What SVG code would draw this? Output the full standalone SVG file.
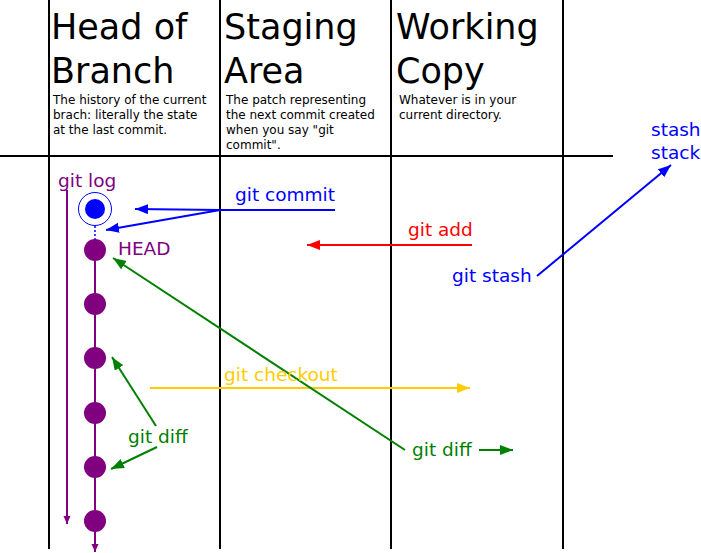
<svg xmlns="http://www.w3.org/2000/svg" width="701" height="553" viewBox="0 0 701 553">
<style>
text{font-family:"DejaVu Sans","Liberation Sans",sans-serif}
.title{font-size:35px;fill:#000}
.sub{font-size:12px;fill:#000}
.lbl{font-size:18.5px}
.grid{stroke:#000;stroke-width:2;fill:none}
.p{stroke:#800080;stroke-width:2;fill:none}
.b{stroke:#0000ff;stroke-width:2;fill:none}
.r{stroke:#ff0000;stroke-width:2;fill:none}
.g{stroke:#008000;stroke-width:2;fill:none}
.y{stroke:#ffcc00;stroke-width:2;fill:none}
</style>
<defs>
<marker id="ab" markerUnits="userSpaceOnUse" markerWidth="14" markerHeight="12" refX="13" refY="5" orient="auto"><path d="M0,0 L13,5 L0,10 Z" fill="#0000ff"/></marker>
<marker id="ar" markerUnits="userSpaceOnUse" markerWidth="14" markerHeight="12" refX="13" refY="5" orient="auto"><path d="M0,0 L13,5 L0,10 Z" fill="#ff0000"/></marker>
<marker id="ag" markerUnits="userSpaceOnUse" markerWidth="14" markerHeight="12" refX="13" refY="5" orient="auto"><path d="M0,0 L13,5 L0,10 Z" fill="#008000"/></marker>
<marker id="ay" markerUnits="userSpaceOnUse" markerWidth="14" markerHeight="12" refX="13" refY="5" orient="auto"><path d="M0,0 L13,5 L0,10 Z" fill="#ffcc00"/></marker>
<marker id="ap" markerUnits="userSpaceOnUse" markerWidth="10" markerHeight="10" refX="8" refY="3.5" orient="auto"><path d="M0,0 L8,3.5 L0,7 Z" fill="#800080"/></marker>
</defs>
<g id="grid">
<line class="grid" x1="49" y1="0" x2="49" y2="549"/>
<line class="grid" x1="220" y1="0" x2="220" y2="549"/>
<line class="grid" x1="391" y1="0" x2="391" y2="549"/>
<line class="grid" x1="563" y1="0" x2="563" y2="549"/>
<line class="grid" x1="0" y1="156" x2="613" y2="156"/>
</g>
<g id="col-head">
<text class="title" x="51" y="39">Head of</text>
<text class="title" x="51" y="83">Branch</text>
<text class="sub" x="53" y="104">The history of the current</text>
<text class="sub" x="53" y="119">brach: literally the state</text>
<text class="sub" x="53" y="134">at the last commit.</text>
</g>
<g id="col-staging">
<text class="title" x="224" y="39">Staging</text>
<text class="title" x="224" y="83">Area</text>
<text class="sub" x="226" y="104">The patch representing</text>
<text class="sub" x="226" y="119">the next commit created</text>
<text class="sub" x="226" y="134">when you say "git</text>
<text class="sub" x="226" y="149">commit".</text>
</g>
<g id="col-working">
<text class="title" x="396" y="39">Working</text>
<text class="title" x="396" y="83">Copy</text>
<text class="sub" x="399" y="104">Whatever is in your</text>
<text class="sub" x="399" y="119">current directory.</text>
</g>
<g id="stash-stack">
<text class="lbl" x="651" y="136" fill="#0000ff">stash</text>
<text class="lbl" x="651" y="159" fill="#0000ff">stack</text>
</g>
<g id="connectors">
<line class="p" x1="67" y1="190" x2="67" y2="524" marker-end="url(#ap)"/>
<line class="p" x1="95" y1="250" x2="95" y2="552" marker-end="url(#ap)"/>
<line stroke="#0000ff" stroke-width="1.5" stroke-dasharray="2,2" x1="95" y1="226" x2="95" y2="240"/>
<polyline class="b" points="335,210 220,210 135,209" marker-end="url(#ab)"/>
<line class="b" x1="220" y1="210" x2="106" y2="230" marker-end="url(#ab)"/>
<line class="r" x1="472" y1="245" x2="307" y2="245" marker-end="url(#ar)"/>
<line class="b" x1="537" y1="276" x2="671" y2="165" marker-end="url(#ab)"/>
<line class="y" x1="150" y1="388" x2="470" y2="388" marker-end="url(#ay)"/>
<line class="g" x1="405" y1="450" x2="113" y2="258" marker-end="url(#ag)"/>
<line class="g" x1="479" y1="450" x2="513" y2="450" marker-end="url(#ag)"/>
<line class="g" x1="156" y1="426" x2="112" y2="357" marker-end="url(#ag)"/>
<line class="g" x1="157" y1="447" x2="111" y2="469" marker-end="url(#ag)"/>
</g>
<g id="commit-new">
<circle cx="95" cy="209" r="16.5" fill="none" stroke="#0000ff" stroke-width="1"/>
<circle cx="95" cy="209" r="10" fill="#0000ff"/>
</g>
<g id="commits" fill="#800080">
<circle cx="95" cy="250" r="11"/>
<circle cx="95" cy="304" r="11"/>
<circle cx="95" cy="358" r="11"/>
<circle cx="95" cy="413" r="11"/>
<circle cx="95" cy="467" r="11"/>
<circle cx="95" cy="521" r="11"/>
</g>
<g id="labels">
<text class="lbl" x="58" y="187" fill="#800080">git log</text>
<text class="lbl" x="118" y="255" fill="#800080">HEAD</text>
<text class="lbl" x="235" y="201" fill="#0000ff">git commit</text>
<text class="lbl" x="408" y="236" fill="#ff0000">git add</text>
<text class="lbl" x="452" y="282" fill="#0000ff">git stash</text>
<text class="lbl" x="224" y="381" fill="#ffcc00">git checkout</text>
<text class="lbl" x="128" y="443" fill="#008000">git diff</text>
<text class="lbl" x="412" y="456" fill="#008000">git diff</text>
</g>
</svg>
